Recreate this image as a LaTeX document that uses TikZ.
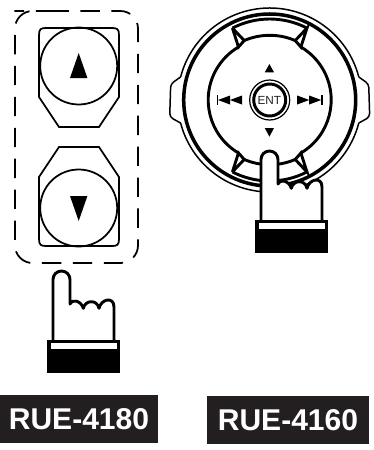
\documentclass[tikz,border=0pt]{standalone}
\usepackage{fontspec}
\usepackage{xcolor}
\usepackage{tikz}
\setmainfont{Liberation Sans}
\definecolor{plate}{HTML}{231F20}
\tikzset{
  thinline/.style={line width=0.85pt},
  keyline/.style={line width=1pt},
  thickline/.style={line width=1.65pt},
  modelabel/.style={fill=plate,text=white,font=\fontsize{17.1}{20}\selectfont\bfseries,inner sep=0pt,align=center},
}
\newcommand{\handat}[2]{%
  \begin{scope}[shift={(#1,#2)}]
  \draw[thickline,fill=white,line join=round] (6,0) -- (6,-60.5) arc[start angle=180,end angle=360,radius=8.5] -- (23,-36)
    .. controls (24,-41) and (34,-40) .. (36.3,-31.7)
    .. controls (38,-40) and (50,-41) .. (52,-31.7)
    .. controls (54,-41) and (67,-44) .. (67,-33) -- (67,0);
  \fill (0,0) rectangle (73,33);
  \fill[white] (4,3) rectangle (70,9);
  \end{scope}
}
\newcommand{\updownkey}{%
  \draw[keyline] (59,127) -- (39,97) -- (39,35) .. controls (39,29) and (41,28) .. (46,28) -- (112,28)
    .. controls (117,28) and (119,29) .. (119,35) -- (119,97) -- (99,127) -- cycle;
  \draw[keyline] (78.7,66) circle (38.5);
  \fill (78.7,53) -- (87.4,78) -- (70,78) -- cycle;
}
\newcommand{\skipmark}{%
  \draw[line width=1.1pt] (217.5,95) -- (217.5,105);
  \fill (218,100) -- (230,95.5) -- (230,104.5) -- cycle;
  \fill (230,100) -- (242,95.5) -- (242,104.5) -- cycle;
}
\newcommand{\dialwedge}{%
  \draw[thickline,miter limit=4] (117.4:81) -- (120.5:61.5) -- (113.2:64.7) -- cycle;
  \draw[thickline] (62.6:81) -- (59.5:61.5) -- (66.8:64.7) -- cycle;
  \draw[thickline] (117.4:81) arc[start angle=117.4,end angle=62.6,radius=81];
  \draw[thickline] (113.2:64.7) arc[start angle=113.2,end angle=66.8,radius=64.7];
}
\newcommand{\dial}{%
  \begin{scope}[shift={(269.7,100)}]
  \draw[thinline] (14.5:92) arc[start angle=14.5,end angle=165.5,radius=92];
  \draw[thinline] (-14.5:92) arc[start angle=-14.5,end angle=-165.5,radius=92];
  \draw[thinline,rounded corners=2] (-165.5:92) -- (-99,-16) -- (-100,17) -- (165.5:92);
  \draw[thinline,rounded corners=2] (-14.5:92) -- (99,-16) -- (100,17) -- (14.5:92);
  \draw[line width=2pt] (0,0) circle (86);
  \draw[thickline] (120.5:61.5) arc[start angle=120.5,end angle=239.5,radius=61.5];
  \draw[thickline] (59.5:61.5) arc[start angle=59.5,end angle=-59.5,radius=61.5];
  \dialwedge
  \begin{scope}[yscale=-1]\dialwedge\end{scope}
  \draw[line width=0.7pt] (0,0) circle (20);
  \draw[line width=1.7pt] (0,0) circle (16);
  \end{scope}
}
\begin{document}
\begin{tikzpicture}[x=0.02cm,y=-0.02cm]
\useasboundingbox (0,0) rectangle (374,450);
\draw[keyline,rounded corners=10,dash pattern=on 11pt off 6.6pt] (32,11) -- (138,11) -- (138,263) -- (15,263) -- (15,11) -- cycle;
\updownkey
\begin{scope}[shift={(0,274)},yscale=-1]\updownkey\end{scope}
\handat{47}{340}
\dial
\fill (269.4,64) -- (274,72.3) -- (264.8,72.3) -- cycle;
\fill (269.4,136.7) -- (274,128) -- (264.8,128) -- cycle;
\skipmark
\begin{scope}[shift={(539.2,0)},xscale=-1]\skipmark\end{scope}
\node[font=\fontsize{6.7}{8}\selectfont,text=plate,inner sep=0pt] (enter) at (269.4,100.3) {ENT};
\handat{255}{220}
\node[modelabel,minimum width=3.16cm,minimum height=0.96cm] (label4180) at (79,419) {RUE-4180};
\node[modelabel,minimum width=3.24cm,minimum height=0.96cm] (label4160) at (288,420) {RUE-4160};
\end{tikzpicture}
\end{document}
